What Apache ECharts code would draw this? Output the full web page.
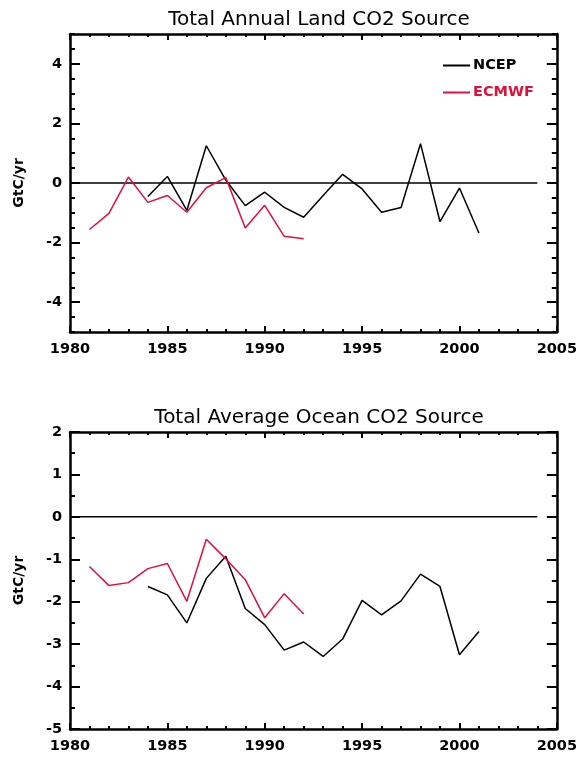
<!DOCTYPE html>
<html>
<head>
<meta charset="utf-8">
<script src="https://cdn.jsdelivr.net/npm/echarts@6/dist/echarts.min.js"></script>
<style>
html,body{margin:0;padding:0;background:#fff;}
#main{width:580px;height:757px;}
</style>
</head>
<body>
<div id="main"></div>
<script>
var ncepYears = [1984,1985,1986,1987,1988,1989,1990,1991,1992,1993,1994,1995,1996,1997,1998,1999,2000,2001];
var ecmwfYears = [1981,1982,1983,1984,1985,1986,1987,1988,1989,1990,1991,1992];

var landNcep = [-0.45,0.22,-0.92,1.25,0.1,-0.76,-0.31,-0.82,-1.15,-0.42,0.29,-0.2,-0.98,-0.82,1.32,-1.3,-0.17,-1.68];
var landEcmwf = [-1.56,-1.02,0.2,-0.65,-0.42,-0.98,-0.16,0.18,-1.51,-0.75,-1.79,-1.87];
var oceanNcep = [-1.64,-1.84,-2.5,-1.45,-0.93,-2.16,-2.54,-3.14,-2.95,-3.29,-2.88,-1.97,-2.31,-1.98,-1.35,-1.64,-3.25,-2.7];
var oceanEcmwf = [-1.17,-1.62,-1.55,-1.22,-1.1,-1.99,-0.53,-0.99,-1.48,-2.38,-1.81,-2.29];

var zeroLine = [[1980,0],[2004,0]];
var landTicks = [-4,-2,0,2,4];

var RED = '#e0103a';
var FONT = 'DejaVu Sans';

function pairs(xs, ys){
    return xs.map(function(x,i){ return [x, ys[i]]; });
}
function plain(v){ return String(v); }

function xAx(grid, pos, labels){
    return {
        type:'value', gridIndex:grid, position:pos, min:1980, max:2005, interval:5,
        axisLine:{show:true, onZero:false, lineStyle:{color:'#000', width:2.5}},
        axisTick:{show:true, inside:true, length:6, lineStyle:{color:'#000', width:2}},
        minorTick:{show:true, splitNumber:5, length:3, lineStyle:{color:'#000', width:2}},
        axisLabel:{show:labels, formatter:plain, color:'#000', fontFamily:FONT, fontWeight:'bold', fontSize:14.5, margin:10},
        splitLine:{show:false}
    };
}

var charts1 = echarts.init(document.getElementById('main'));
var option = {
    animation:false,
    title:[
        {text:'Total Annual Land CO2 Source', left:314, top:5, textAlign:'center',
         textStyle:{fontFamily:FONT, fontWeight:'normal', fontSize:20, color:'#000'}},
        {text:'Total Average Ocean CO2 Source', left:314, top:403, textAlign:'center',
         textStyle:{fontFamily:FONT, fontWeight:'normal', fontSize:20, color:'#000'}}
    ],
    legend:{
        orient:'vertical', left:438, top:53, itemWidth:27, itemHeight:2, itemGap:12,
        icon:'rect',
        data:[
            {name:'NCEP', textStyle:{color:'#000'}},
            {name:'ECMWF', textStyle:{color:RED}}
        ],
        textStyle:{fontFamily:FONT, fontWeight:'bold', fontSize:14.5, padding:[0,0,0,-2]}
    },
    grid:[
        {left:70, top:34, width:489, height:298},
        {left:70, top:432, width:489, height:297}
    ],
    xAxis:[
        xAx(0,'bottom',true), xAx(0,'top',false),
        xAx(1,'bottom',true), xAx(1,'top',false)
    ],
    yAxis:[
        {type:'value', gridIndex:0, position:'left', min:-5, max:5,
         name:'GtC/yr', nameLocation:'middle', nameGap:44,
         nameTextStyle:{fontFamily:FONT, fontWeight:'bold', fontSize:14, color:'#000'},
         axisLine:{show:true, onZero:false, lineStyle:{color:'#000', width:2.5}},
         axisTick:{show:true, inside:true, length:10, customValues:landTicks, lineStyle:{color:'#000', width:2}},
         axisLabel:{color:'#000', fontFamily:FONT, fontWeight:'bold', fontSize:14.5, margin:8, customValues:landTicks},
         splitLine:{show:false}},
        {type:'value', gridIndex:0, position:'left', min:-5, max:5, interval:0.5,
         axisLine:{show:false, onZero:false}, axisLabel:{show:false}, splitLine:{show:false},
         axisTick:{show:true, inside:true, length:5, lineStyle:{color:'#000', width:2}}},
        {type:'value', gridIndex:0, position:'right', min:-5, max:5,
         axisLine:{show:true, onZero:false, lineStyle:{color:'#000', width:2.5}},
         axisTick:{show:true, inside:true, length:10, customValues:landTicks, lineStyle:{color:'#000', width:2}},
         axisLabel:{show:false}, splitLine:{show:false}},
        {type:'value', gridIndex:0, position:'right', min:-5, max:5, interval:0.5,
         axisLine:{show:false, onZero:false}, axisLabel:{show:false}, splitLine:{show:false},
         axisTick:{show:true, inside:true, length:5, lineStyle:{color:'#000', width:2}}},
        {type:'value', gridIndex:1, position:'left', min:-5, max:2, interval:1,
         name:'GtC/yr', nameLocation:'middle', nameGap:44,
         nameTextStyle:{fontFamily:FONT, fontWeight:'bold', fontSize:14, color:'#000'},
         axisLine:{show:true, onZero:false, lineStyle:{color:'#000', width:2.5}},
         axisTick:{show:true, inside:true, length:10, lineStyle:{color:'#000', width:2}},
         minorTick:{show:true, splitNumber:2, length:5, lineStyle:{color:'#000', width:2}},
         axisLabel:{color:'#000', fontFamily:FONT, fontWeight:'bold', fontSize:14.5, margin:8},
         splitLine:{show:false}},
        {type:'value', gridIndex:1, position:'right', min:-5, max:2, interval:1,
         axisLine:{show:true, onZero:false, lineStyle:{color:'#000', width:2.5}},
         axisTick:{show:true, inside:true, length:10, lineStyle:{color:'#000', width:2}},
         minorTick:{show:true, splitNumber:2, length:5, lineStyle:{color:'#000', width:2}},
         axisLabel:{show:false}, splitLine:{show:false}}
    ],
    series:[
        {name:'zero', type:'line', xAxisIndex:0, yAxisIndex:0, data:zeroLine, showSymbol:false,
         lineStyle:{color:'#000', width:1.5}, silent:true},
        {name:'NCEP', type:'line', xAxisIndex:0, yAxisIndex:0, data:pairs(ncepYears, landNcep), showSymbol:false,
         itemStyle:{color:'#000'}, lineStyle:{color:'#000', width:1.5}},
        {name:'ECMWF', type:'line', xAxisIndex:0, yAxisIndex:0, data:pairs(ecmwfYears, landEcmwf), showSymbol:false,
         itemStyle:{color:RED}, lineStyle:{color:RED, width:1.5}},
        {name:'zero2', type:'line', xAxisIndex:2, yAxisIndex:4, data:zeroLine, showSymbol:false,
         lineStyle:{color:'#000', width:1.5}, silent:true},
        {name:'NCEP', type:'line', xAxisIndex:2, yAxisIndex:4, data:pairs(ncepYears, oceanNcep), showSymbol:false,
         itemStyle:{color:'#000'}, lineStyle:{color:'#000', width:1.5}},
        {name:'ECMWF', type:'line', xAxisIndex:2, yAxisIndex:4, data:pairs(ecmwfYears, oceanEcmwf), showSymbol:false,
         itemStyle:{color:RED}, lineStyle:{color:RED, width:1.5}}
    ]
};
charts1.setOption(option);
</script>
</body>
</html>
